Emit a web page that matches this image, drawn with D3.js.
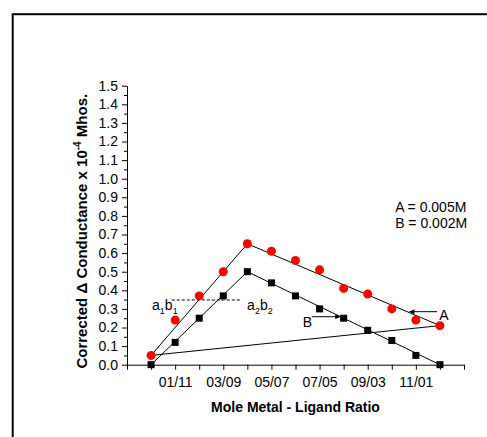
<!DOCTYPE html>
<html>
<head>
<meta charset="utf-8">
<script src="https://cdn.jsdelivr.net/npm/d3@7"></script>
<style>
  html, body { margin: 0; padding: 0; background: #fff; overflow: hidden; }
  svg { display: block; font-family: "Liberation Sans", Arial, sans-serif; }
</style>
</head>
<body>
<div id="chart"></div>
<script>
// metal count out of 12 (metal/ligand ratio)
const ratioIndex = [0, 1, 2, 3, 4, 5, 6, 7, 8, 9, 10, 11, 12];
const seriesA = [0.05, 0.24, 0.37, 0.50, 0.65, 0.61, 0.56, 0.51, 0.41, 0.38, 0.30, 0.24, 0.21];
const seriesB = [0.00, 0.12, 0.25, 0.37, 0.50, 0.44, 0.37, 0.30, 0.25, 0.185, 0.13, 0.05, 0.00];

const xTicks = [-1, 0, 1, 2, 3, 4, 5, 6, 7, 8, 9, 10, 11, 12, 13];
const xTickLabels = { 1: "01/11", 3: "03/09", 5: "05/07", 7: "07/05", 9: "09/03", 11: "11/01" };
const yTicks = [0, 0.1, 0.2, 0.3, 0.4, 0.5, 0.6, 0.7, 0.8, 0.9, 1.0, 1.1, 1.2, 1.3, 1.4, 1.5];
const yMinorTicks = [0.05, 0.15, 0.25, 0.35, 0.45, 0.55, 0.65, 0.75, 0.85, 0.95, 1.05, 1.15, 1.25, 1.35, 1.45];

// fitted straight lines drawn through the points
const fitA = [[0, 0.05], [4, 0.65], [12, 0.21]];
const fitB = [[0, 0.00], [4, 0.50], [12, 0.00]];
const fitCross = [[0, 0.05], [12, 0.21]];

// a1b1 ... a2b2 dashed guide
const guideX = [0.86, 3.77];
const guideY = 0.348;

const width = 487, height = 437;
const margin = { top: 85.7, right: 23, bottom: 72.3, left: 127 };

const svg = d3.select("#chart").append("svg")
  .attr("width", width)
  .attr("height", height);

// outer frame (only top/left edges visible)
svg.append("rect")
  .attr("x", 12.7).attr("y", 14.2)
  .attr("width", 600).attr("height", 600)
  .attr("fill", "none")
  .attr("stroke", "#000")
  .attr("stroke-width", 2);

const x = d3.scaleLinear().domain([-1, 13]).range([margin.left, width - margin.right]);
const y = d3.scaleLinear().domain([0, 1.5]).range([height - margin.bottom, margin.top]);

const defs = svg.append("defs");
defs.append("marker")
  .attr("id", "arrow")
  .attr("viewBox", "0 0 10 10")
  .attr("refX", 10).attr("refY", 5)
  .attr("markerWidth", 7).attr("markerHeight", 5)
  .attr("markerUnits", "userSpaceOnUse")
  .attr("orient", "auto")
  .append("path")
  .attr("d", "M0,0 L10,5 L0,10 Z")
  .attr("fill", "#000");

// axes
const xAxis = svg.append("g")
  .attr("transform", `translate(0,${y(0)})`)
  .call(d3.axisBottom(x).tickValues(xTicks).tickSize(5).tickSizeOuter(0)
    .tickFormat(d => xTickLabels[d] || ""));
xAxis.selectAll("text").attr("dy", "1.05em");

const yAxis = svg.append("g")
  .attr("transform", `translate(${x(-1)},0)`)
  .call(d3.axisLeft(y).tickValues(yTicks).tickSize(5).tickSizeOuter(0)
    .tickFormat(d3.format(".1f")));
yAxis.selectAll("text").attr("x", -9);

svg.append("g")
  .attr("transform", `translate(${x(-1)},0)`)
  .call(d3.axisLeft(y).tickValues(yMinorTicks).tickSize(3).tickFormat(""))
  .select(".domain").remove();

svg.selectAll(".tick text")
  .attr("fill", "#000")
  .style("font-size", "14px")
  .style("font-family", "'Liberation Sans', Arial, sans-serif");
svg.selectAll(".domain, .tick line").attr("stroke", "#000").attr("stroke-width", 1);

// axis titles
svg.append("text")
  .attr("x", (x(-1) + x(13)) / 2)
  .attr("y", 412)
  .attr("text-anchor", "middle")
  .style("font-size", "14px")
  .style("font-weight", "bold")
  .text("Mole Metal - Ligand Ratio");

const yTitle = svg.append("text")
  .attr("transform", `translate(87,${(y(0) + y(1.5)) / 2 + 6}) rotate(-90)`)
  .attr("text-anchor", "middle")
  .style("font-size", "15px")
  .style("font-weight", "bold");
yTitle.append("tspan").text("Corrected \u0394 Conductance x 10");
yTitle.append("tspan").attr("dy", -6).style("font-size", "10px").text("-4");
yTitle.append("tspan").attr("dy", 6).text(" Mhos.");

// fitted lines
const line = d3.line().x(d => x(d[0])).y(d => y(d[1]));
[fitA, fitB, fitCross].forEach(seg => {
  svg.append("path")
    .attr("d", line(seg))
    .attr("fill", "none")
    .attr("stroke", "#000")
    .attr("stroke-width", 1);
});

// dashed guide
svg.append("line")
  .attr("x1", x(guideX[0])).attr("x2", x(guideX[1]))
  .attr("y1", y(guideY)).attr("y2", y(guideY))
  .attr("stroke", "#000")
  .attr("stroke-width", 1)
  .attr("stroke-dasharray", "3,2");

function subLabel(xv, yv, parts) {
  const t = svg.append("text")
    .attr("x", x(xv)).attr("y", y(yv))
    .style("font-size", "14px");
  parts.forEach(([s, sub]) => {
    t.append("tspan").attr("dy", sub ? 4 : -4).style("font-size", sub ? "9px" : "14px").text(s);
  });
  t.select("tspan").attr("dy", 0);
}
subLabel(0.04, 0.294, [["a", false], ["1", true], ["b", false], ["1", true]]);
subLabel(3.99, 0.294, [["a", false], ["2", true], ["b", false], ["2", true]]);

// points
svg.selectAll("rect.ptB")
  .data(ratioIndex)
  .join("rect")
  .attr("class", "ptB")
  .attr("x", (d, i) => x(d) - 3.5)
  .attr("y", (d, i) => y(seriesB[i]) - 3.5)
  .attr("width", 7).attr("height", 7)
  .attr("fill", "#000");

svg.selectAll("circle.ptA")
  .data(ratioIndex)
  .join("circle")
  .attr("class", "ptA")
  .attr("cx", (d, i) => x(d))
  .attr("cy", (d, i) => y(seriesA[i]))
  .attr("r", 4.5)
  .attr("fill", "#ff0000");

// arrows with labels A and B
const arrows = [
  { from: [11.88, 0.285], to: [10.73, 0.285], label: "A", at: [11.97, 0.240] },
  { from: [6.68, 0.258], to: [7.86, 0.258], label: "B", at: [6.30, 0.203] }
];
arrows.forEach(a => {
  svg.append("line")
    .attr("x1", x(a.from[0])).attr("y1", y(a.from[1]))
    .attr("x2", x(a.to[0])).attr("y2", y(a.to[1]))
    .attr("stroke", "#000")
    .attr("stroke-width", 1)
    .attr("marker-end", "url(#arrow)");
  svg.append("text")
    .attr("x", x(a.at[0])).attr("y", y(a.at[1]))
    .style("font-size", "14px")
    .text(a.label);
});

// concentration notes
const notes = ["A = 0.005M", "B = 0.002M"];
const noteY = [0.821, 0.735];
notes.forEach((n, i) => {
  svg.append("text")
    .attr("x", x(10.14)).attr("y", y(noteY[i]))
    .style("font-size", "14px")
    .text(n);
});
</script>
</body>
</html>
